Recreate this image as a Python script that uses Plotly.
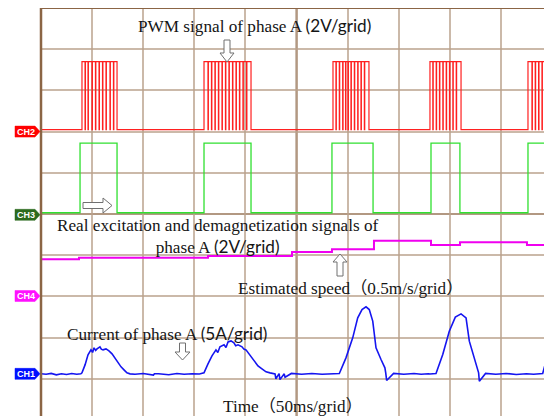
import plotly.graph_objects as go

# ---------------- data ----------------
# time axis: ms, 50 ms / grid ; vertical axis in grid divisions
ch2_ground = 2.00   # div (PWM, 2 V/grid)
ch3_ground = -0.02  # div (excitation signal, 2 V/grid)
ch4_ground = -1.99  # div (speed, 0.5 m/s/grid)
ch1_ground = -3.88  # div (current, 5 A/grid)

pwm_low, pwm_high = 0.1, 3.40          # V
pwm_bursts = [                          # (on, off, dips) in ms
    (40.1, 74.4, [43.1, 46.0, 49.9, 53.3, 56.8, 60.2, 63.6, 67.5, 70.9]),
    (159.5, 205.5, [163.4, 166.8, 170.2, 173.6, 177.1, 180.5, 183.9, 187.4, 190.8, 194.2, 197.6, 201.1]),
    (285.7, 320.9, [288.6, 291.9, 295.2, 298.0, 300.4, 303.3, 306.6, 309.9, 313.1, 316.4]),
    (380.6, 411.0, [383.4, 386.7, 389.9, 393.2, 396.5, 399.7, 403.0, 406.3]),
    (476.5, 505.0, [480.4, 483.6, 486.9, 490.2, 493.4, 496.7, 500.0]),
]
pwm_dip_width = 0.35

exc_low, exc_high = 0.1, 3.48           # V
exc_pulses = [(38.2, 74.4), (159.5, 205.5), (284.7, 324.9), (381.6, 409.9), (476.5, 505.0)]

speed_t = [0, 37.2, 163.4, 245.6, 284.7, 325.8, 381.6, 410.0, 475.5, 500]
speed_v = [0.445, 0.465, 0.485, 0.534, 0.567, 0.671, 0.619, 0.652, 0.619, 0.619]  # m/s

cur_t = [0, 5, 10, 15, 20, 25, 30, 35, 39,
         40.1, 43.1, 46.0, 48.9, 50.5, 51.9, 53.5, 54.8, 57.7, 59.0, 60.7, 63.6, 66.5, 69.5, 72.4, 75.3, 78.3, 81.2, 84.1,
         87.1, 92, 100, 110, 111, 115, 125, 133, 140, 148, 155,
         159.5, 163.4, 165.0, 167.3, 171.2, 173.0, 175.1, 179.1, 181.0, 183.0, 185.9, 188.8, 190.5, 192.8, 196.7, 198.5,
         200.6, 204.5, 208.4, 212.3, 216.2, 220.2,
         224.1, 229, 229.8, 233, 233.8, 238, 238.8, 245, 255, 265, 275, 283,
         286.0, 291.9, 298.4, 305.0, 309.9, 314.1, 318.0, 321.2, 324.6, 327.8, 332.7, 336.5, 337.3, 338.2,
         345, 355, 365, 372, 379,
         380.6, 386.5, 393.1, 399.5, 405.4, 411.0, 415.9, 419.1, 424.0, 427.5, 428.2, 428.9,
         435, 445, 455, 465, 475, 482,
         486.0, 490.9, 495.8, 500.0]
cur_a = [0.02, -0.05, 0.05, -0.12, 0.02, -0.08, 0.05, -0.05, 0.0,
         0.12, 1.09, 2.31, 2.91, 2.6, 3.16, 2.85, 3.03, 3.28, 3.0, 2.91, 3.03, 2.79, 2.43, 1.94, 1.33, 0.85, 0.49, 0.12,
         0.0, -0.05, 0.05, -0.15, 0.02, 0.02, -0.1, 0.05, -0.05, 0.02, -0.02,
         0.12, 1.21, 1.6, 2.18, 2.91, 2.6, 3.28, 3.52, 3.2, 3.88, 4.00, 3.76, 3.4, 3.52, 3.28, 3.0,
         2.91, 2.31, 1.58, 0.97, 0.61, 0.24,
         0.12, 0.0, -0.6, 0.02, -0.7, 0.0, -0.4, 0.05, -0.05, 0.05, -0.05, 0.02, -0.02,
         0.04, 1.94, 4.37, 6.80, 7.80, 8.13, 7.80, 6.40, 3.16, 1.74, 0.73, 0.12, -0.8, 0.05,
         -0.05, 0.05, -0.05, 0.02, -0.02,
         0.04, 2.34, 5.18, 6.88, 7.28, 6.80, 3.97, 1.94, 0.52, 0.12, -0.9, 0.05,
         -0.05, 0.05, -0.08, 0.02, -0.05, 0.02,
         0.04, 2.34, 3.97, 4.58]

# ---------------- scale helpers ----------------
V_PER_DIV = 2.0
MS_PER_DIV_SPEED = 0.5
A_PER_DIV = 5.0
Y_MIN, Y_MAX = -4.903, 5.0
X_MIN, X_MAX = 0, 500

# the page body has an 8 px margin, so the figure starts at (8, 8) on the page
PAGE_OFF = 8
W, H = 552 - PAGE_OFF, 416 - PAGE_OFF
ML, MT = 41 - PAGE_OFF, 8 - PAGE_OFF
PW, PH = W - ML, H - MT


def px(xp):   # page pixel -> paper x
    return (xp - 41) / PW


def py(yp):   # page pixel -> paper y
    return (416 - yp) / PH


def div_to_paper(d):
    return (d - Y_MIN) / (Y_MAX - Y_MIN)


# build step traces
def pwm_trace():
    xs, ys = [X_MIN - 5], [pwm_low]
    for on, off, dips in pwm_bursts:
        xs.append(on); ys.append(pwm_high)
        for d in dips:
            xs += [d, d + pwm_dip_width]
            ys += [pwm_low, pwm_high]
        xs.append(off); ys.append(pwm_low)
    xs.append(X_MAX + 10); ys.append(pwm_low)
    return xs, [ch2_ground + v / V_PER_DIV for v in ys]


def exc_trace():
    xs, ys = [X_MIN - 5], [exc_low]
    for on, off in exc_pulses:
        xs += [on, off]
        ys += [exc_high, exc_low]
    xs.append(X_MAX + 10); ys.append(exc_low)
    return xs, [ch3_ground + v / V_PER_DIV for v in ys]


fig = go.Figure()

x2, y2 = pwm_trace()
fig.add_trace(go.Scatter(x=x2, y=y2, mode="lines", line=dict(color="#ff2020", width=1.2, shape="hv")))
x3, y3 = exc_trace()
fig.add_trace(go.Scatter(x=x3, y=y3, mode="lines", line=dict(color="#30e030", width=1.3, shape="hv")))
fig.add_trace(go.Scatter(x=speed_t, y=[ch4_ground + v / MS_PER_DIV_SPEED for v in speed_v], mode="lines",
                         line=dict(color="#f000f0", width=2, shape="hv")))
fig.add_trace(go.Scatter(x=cur_t, y=[ch1_ground + a / A_PER_DIV for a in cur_a], mode="lines",
                         line=dict(color="#1515f0", width=1.6)))

shapes = []
# centre lines
shapes.append(dict(type="line", xref="x", yref="paper", x0=250, x1=250, y0=0, y1=1,
                   line=dict(color="#9a7d63", width=2), layer="below"))
shapes.append(dict(type="line", xref="paper", yref="y", x0=0, x1=1, y0=0, y1=0,
                   line=dict(color="#9a7d63", width=2), layer="below"))
# borders
shapes.append(dict(type="line", xref="paper", yref="paper", x0=0, x1=0, y0=0, y1=1,
                   line=dict(color="#8b6545", width=2.5)))
shapes.append(dict(type="line", xref="paper", yref="paper", x0=0, x1=1, y0=1, y1=1,
                   line=dict(color="#8b6545", width=2)))

# channel markers
markers = [("CH2", ch2_ground, "#ff0000"), ("CH3", ch3_ground, "#2c6a1e"),
           ("CH4", ch4_ground, "#ff10ff"), ("CH1", ch1_ground, "#0010ff")]
annotations = []
for name, g, col in markers:
    yc = div_to_paper(g)
    hh = 5.5 / PH
    path = (f"M {px(15)},{yc - hh} L {px(35)},{yc - hh} L {px(40)},{yc} "
            f"L {px(35)},{yc + hh} L {px(15)},{yc + hh} Z")
    shapes.append(dict(type="path", xref="paper", yref="paper", path=path,
                       fillcolor=col, line=dict(color=col, width=0.5)))
    annotations.append(dict(xref="paper", yref="paper", x=px(26), y=yc, text=f"<b>{name}</b>",
                            showarrow=False, font=dict(family="Liberation Sans", size=9, color="white"),
                            xanchor="center", yanchor="middle"))


def arrow(points):
    p = "M " + " L ".join(f"{px(a)},{py(b)}" for a, b in points) + " Z"
    shapes.append(dict(type="path", xref="paper", yref="paper", path=p,
                       fillcolor="white", line=dict(color="#707070", width=1)))


# down arrow (PWM)
arrow([(224, 40), (230, 40), (230, 53), (234, 53), (227, 62), (220, 53), (224, 53)])
# right arrow (excitation)
arrow([(83, 202.5), (103, 202.5), (103, 198), (112, 205.5), (103, 213), (103, 208.5), (83, 208.5)])
# up arrow (speed)
arrow([(340, 254), (347, 262), (343, 262), (343, 276), (337, 276), (337, 262), (333, 262)])
# down arrow (current)
arrow([(179.5, 343), (185.5, 343), (185.5, 352), (190, 352), (182.5, 360), (175, 352), (179.5, 352)])

SERIF = "Liberation Serif, Noto Sans CJK SC"
SANS = "Lato"
FS = 17.2


def label(x, y, text, size=FS):
    annotations.append(dict(xref="paper", yref="paper", x=px(x), y=py(y), text=text, showarrow=False,
                            font=dict(family=SERIF, size=size, color="#151515"),
                            xanchor="center", yanchor="middle", align="center"))


label(254.5, 26, f"PWM signal of phase A <span style='font-family:{SANS}'>(2V/grid)</span>")
label(217, 236, "Real excitation and demagnetization signals of<br>"
                f"phase A <span style='font-family:{SANS}'>(2V/grid)</span>")
label(350, 288, "Estimated speed（0.5m/s/grid）")
label(167, 333, f"Current of phase A <span style='font-family:{SANS}'>(5A/grid)</span>")
label(293, 406, "Time（50ms/grid）")

grid = "rgba(185,162,140,0.75)"
fig.update_layout(
    width=W, height=H,
    margin=dict(l=ML, r=0, t=MT, b=0, pad=0),
    paper_bgcolor="white", plot_bgcolor="white",
    showlegend=False,
    xaxis=dict(range=[X_MIN, X_MAX], dtick=50, tick0=0, showticklabels=False, ticks="",
               showgrid=True, gridcolor=grid, gridwidth=1.5, zeroline=False, showline=False),
    yaxis=dict(range=[Y_MIN, Y_MAX], dtick=1, tick0=0, showticklabels=False, ticks="",
               showgrid=True, gridcolor=grid, gridwidth=1.5, zeroline=False, showline=False),
    shapes=shapes,
    annotations=annotations,
)

fig.write_html("out.html")
